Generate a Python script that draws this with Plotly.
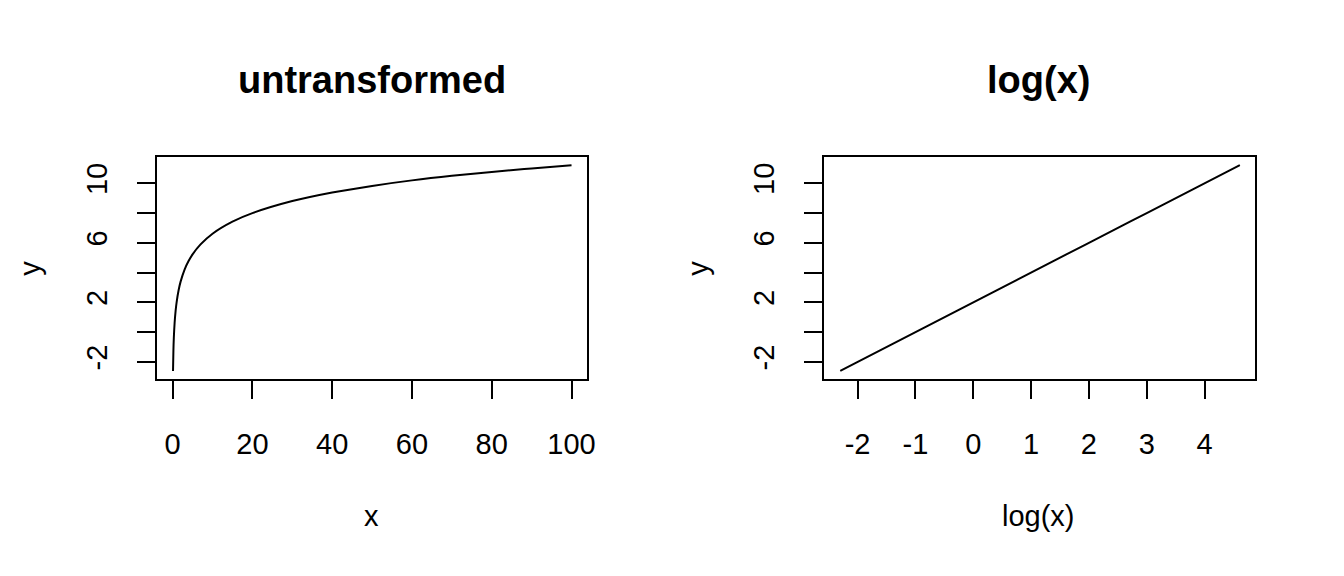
import plotly.graph_objects as go

# values
x_vals = [0.1, 0.2, 0.3, 0.5, 0.75, 1, 1.5, 2, 3, 4, 5, 7, 10, 15, 20, 30,
          40, 50, 60, 70, 80, 90, 100]
log_x_vals = [-2.3, -1.61, -1.2, -0.69, -0.29, 0.0, 0.41, 0.69, 1.1, 1.39,
              1.61, 1.95, 2.3, 2.71, 3.0, 3.4, 3.69, 3.91, 4.09, 4.25, 4.38,
              4.5, 4.61]
y_vals = [-2.61, -1.22, -0.41, 0.61, 1.42, 2.0, 2.81, 3.39, 4.2, 4.77, 5.22,
          5.89, 6.61, 7.42, 7.99, 8.8, 9.38, 9.82, 10.19, 10.5, 10.76, 10.99,
          11.21]

y_ticks = [-2, 0, 2, 4, 6, 8, 10]
y_ticktext = ['-2', '', '2', '', '6', '', '10']
x_ticks = [0, 20, 40, 60, 80, 100]
x_ticktext = ['0', '20', '40', '60', '80', '100']
logx_ticks = [-2, -1, 0, 1, 2, 3, 4]
logx_ticktext = ['-2', '-1', '0', '1', '2', '3', '4']

W, H = 1344, 576
FONT = 'Liberation Sans, Arial, sans-serif'


def px_x(p):
    return p / W


def px_y(p):
    return 1 - p / H


fig = go.Figure()
fig.add_trace(go.Scatter(x=x_vals, y=y_vals, mode='lines', line_shape='spline',
                         line=dict(color='black', width=2), xaxis='x', yaxis='y'))
fig.add_trace(go.Scatter(x=log_x_vals, y=y_vals, mode='lines',
                         line=dict(color='black', width=2), xaxis='x2', yaxis='y2'))

ax_common = dict(showline=True, mirror=True, linecolor='black', linewidth=2,
                 showgrid=False, zeroline=False, ticks='outside', ticklen=18,
                 tickwidth=2, tickcolor='black',
                 tickfont=dict(family=FONT, size=29, color='black'))

fig.update_layout(
    autosize=True, height=H,
    margin=dict(l=0, r=0, t=0, b=0),
    paper_bgcolor='white', plot_bgcolor='white',
    showlegend=False,
    font=dict(family=FONT, color='black'),
    xaxis=dict(domain=[px_x(158), px_x(591)], range=[-3.9, 104], anchor='y',
               tickvals=x_ticks, ticktext=x_ticktext, ticklabelstandoff=20,
               **ax_common),
    yaxis=dict(domain=[px_y(379), px_y(157)], range=[-3.15, 11.76], anchor='x',
               tickvals=y_ticks, ticktext=y_ticktext, tickangle=-90,
               ticklabelstandoff=18, **ax_common),
    xaxis2=dict(domain=[px_x(829), px_x(1263)], range=[-2.58, 4.88], anchor='y2',
                tickvals=logx_ticks, ticktext=logx_ticktext, ticklabelstandoff=20,
                **ax_common),
    yaxis2=dict(domain=[px_y(379), px_y(157)], range=[-3.15, 11.76], anchor='x2',
                tickvals=y_ticks, ticktext=y_ticktext, tickangle=-90,
                ticklabelstandoff=18, **ax_common),
)

annots = [
    dict(text='<b>untransformed</b>', x=px_x(374), y=px_y(80), size=38),
    dict(text='<b>log(x)</b>', x=px_x(1045), y=px_y(80), size=38),
    dict(text='x', x=px_x(374), y=px_y(516), size=29),
    dict(text='log(x)', x=px_x(1045), y=px_y(516), size=29),
    dict(text='y', x=px_x(30), y=px_y(268), size=29, angle=-90),
    dict(text='y', x=px_x(702), y=px_y(268), size=29, angle=-90),
]
for a in annots:
    fig.add_annotation(text=a['text'], x=a['x'], y=a['y'], xref='paper',
                       yref='paper', showarrow=False, xanchor='center',
                       yanchor='middle', textangle=a.get('angle', 0),
                       font=dict(family=FONT, size=a['size'], color='black'))

# drop the default page margin and let the figure fill the window width
fig.write_html("out.html",
               config={'displayModeBar': False, 'responsive': True},
               default_width='100%', default_height='576px',
               post_script="document.body.style.margin='0';"
                           "document.documentElement.style.overflow='hidden';"
                           "Plotly.Plots.resize(document.getElementById('{plot_id}'));")
